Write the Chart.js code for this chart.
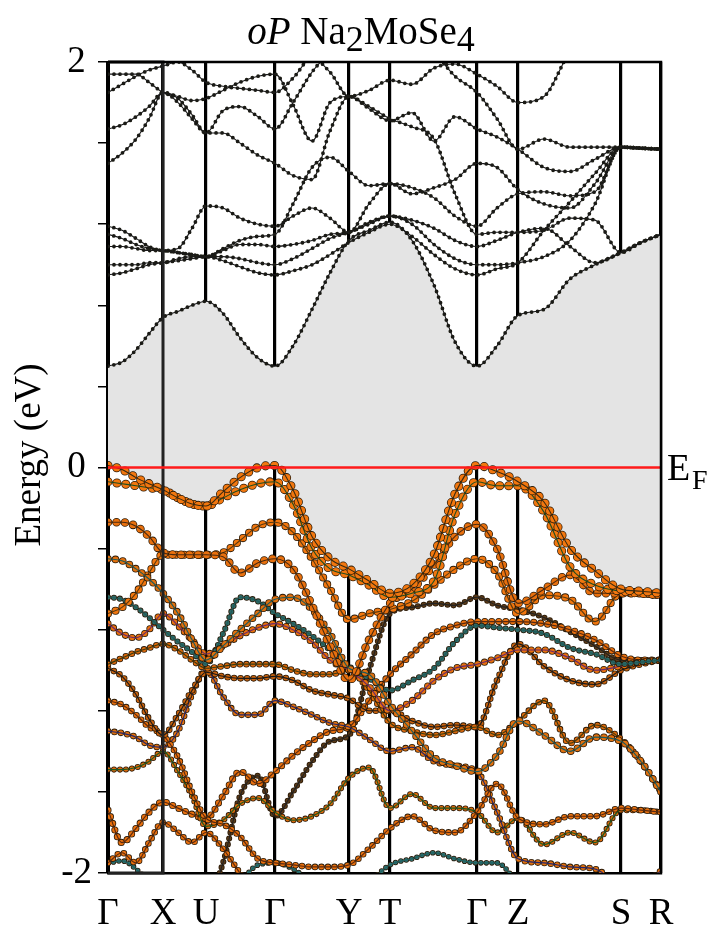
<!DOCTYPE html>
<html>
<head>
<meta charset="utf-8">
<script src="https://cdn.jsdelivr.net/npm/chart.js@4.4.1/dist/chart.umd.min.js"></script>
<style>
    html, body { margin: 0; padding: 0; background: #fff; }
</style>
</head>
<body>
<canvas id="bandChart" width="709" height="936"></canvas>
<script>
// k-path positions (path length units) and high-symmetry points
const kPos = [0, 14, 28, 41, 55, 70, 84, 98, 115, 132, 150, 167, 185, 204, 222, 241, 261, 282,
    304, 326, 347, 369, 389, 410, 436, 462, 487, 513, 533, 553];
const kTicks = [0, 55, 98, 167, 241, 282, 369, 410, 513, 553];
const kLabels = ['\u0393', 'X', 'U', '\u0393', 'Y', 'T', '\u0393', 'Z', 'S', 'R'];
const energyRange = [-2, 2];
const energyMajor = [-2, -1, 0, 1, 2];
const efLevel = 0;

// conduction bands (eV)
const cb1 = [0.50, 0.52, 0.58, 0.66, 0.74, 0.77, 0.80, 0.82, 0.76, 0.64, 0.54, 0.50, 0.60, 0.78, 0.96, 1.12, 1.17, 1.21, 1.12, 0.90, 0.62, 0.50, 0.60, 0.75, 0.78, 0.93, 1.00, 1.06, 1.11, 1.15];
const cb2 = [0.95, 0.96, 0.98, 1.00, 1.01, 1.02, 1.03, 1.04, 1.02, 0.99, 0.96, 0.95, 0.97, 1.00, 1.05, 1.11, 1.16, 1.20, 1.14, 1.05, 0.98, 0.95, 0.98, 1.01, 1.17, 1.31, 1.45, 1.58, 1.575, 1.57];
const cb3 = [1.00, 1.00, 1.00, 1.01, 1.01, 1.03, 1.04, 1.04, 1.04, 1.03, 1.01, 1.00, 1.03, 1.08, 1.13, 1.16, 1.20, 1.24, 1.20, 1.10, 1.03, 1.00, 1.00, 1.01, 1.04, 1.12, 1.30, 1.58, 1.575, 1.57];
const cb4 = [1.09, 1.09, 1.08, 1.07, 1.07, 1.06, 1.05, 1.04, 1.07, 1.10, 1.10, 1.09, 1.10, 1.12, 1.15, 1.16, 1.21, 1.24, 1.22, 1.18, 1.12, 1.09, 1.12, 1.16, 1.18, 1.09, 1.01, 1.06, 1.11, 1.15];
const cb5 = [1.15, 1.13, 1.10, 1.08, 1.07, 1.06, 1.05, 1.04, 1.08, 1.12, 1.14, 1.15, 1.30, 1.48, 1.53, 1.46, 1.39, 1.40, 1.35, 1.38, 1.42, 1.50, 1.48, 1.37, 1.30, 1.28, 1.40, 1.58, 1.575, 1.57];
const cb6 = [1.19, 1.17, 1.13, 1.09, 1.07, 1.08, 1.18, 1.29, 1.28, 1.23, 1.20, 1.19, 1.24, 1.28, 1.23, 1.16, 1.30, 1.40, 1.38, 1.33, 1.24, 1.19, 1.28, 1.35, 1.36, 1.34, 1.36, 1.58, 1.575, 1.57];
const cb7 = [1.50, 1.55, 1.62, 1.72, 1.85, 1.80, 1.72, 1.65, 1.65, 1.60, 1.54, 1.50, 1.44, 1.42, 1.66, 1.83, 1.77, 1.71, 1.75, 1.61, 1.73, 1.67, 1.63, 1.57, 1.48, 1.46, 1.52, 1.58, 1.575, 1.57];
const cb8 = [1.67, 1.69, 1.73, 1.78, 1.85, 1.82, 1.74, 1.65, 1.76, 1.78, 1.73, 1.67, 1.80, 1.95, 2.05, 2.15, 2.15, 2.15, 2.15, 2.05, 1.93, 1.85, 1.72, 1.57, 1.62, 1.58, 1.58, 1.58, 1.575, 1.57];
const cb9 = [1.85, 1.89, 1.93, 1.96, 1.98, 2.00, 1.96, 1.90, 1.88, 1.87, 1.86, 1.85, 1.92, 2.02, 1.95, 1.83, 1.86, 1.91, 1.89, 1.97, 1.99, 1.94, 1.88, 1.80, 1.83, 2.05, 2.15, 2.15, 2.15, 2.15];
const cb10 = [1.94, 1.94, 1.94, 1.90, 1.85, 1.83, 1.81, 1.82, 1.86, 1.90, 1.93, 1.94, 1.79, 1.61, 1.80, 1.83, 1.78, 1.72, 1.68, 1.62, 1.35, 1.15, 1.16, 1.16, 1.17, 1.23, 1.22, 1.06, 1.11, 1.15];

// valence bands (eV)
const vb1 = [0.01, -0.01, -0.05, -0.08, -0.11, -0.15, -0.18, -0.19, -0.12, -0.05, 0.00, 0.01, -0.11, -0.34, -0.45, -0.50, -0.56, -0.62, -0.58, -0.43, -0.13, 0.01, -0.02, -0.07, -0.17, -0.40, -0.51, -0.60, -0.61, -0.62];
const vb2 = [-0.07, -0.08, -0.09, -0.10, -0.11, -0.15, -0.18, -0.19, -0.15, -0.11, -0.08, -0.07, -0.18, -0.40, -0.50, -0.53, -0.58, -0.64, -0.62, -0.56, -0.23, -0.07, -0.09, -0.09, -0.22, -0.49, -0.58, -0.61, -0.62, -0.63];
const vb3 = [-0.27, -0.27, -0.29, -0.34, -0.42, -0.43, -0.43, -0.43, -0.44, -0.52, -0.47, -0.45, -0.50, -0.68, -0.88, -1.05, -0.85, -0.67, -0.60, -0.48, -0.34, -0.28, -0.40, -0.67, -0.60, -0.53, -0.62, -0.62, -0.62, -0.63];
const vb4 = [-0.45, -0.46, -0.50, -0.55, -0.62, -0.72, -0.85, -0.95, -0.88, -0.80, -0.72, -0.65, -0.64, -0.70, -0.82, -0.99, -1.02, -1.17, -1.30, -1.43, -1.47, -1.50, -1.42, -1.25, -1.32, -1.40, -1.33, -1.35, -1.45, -1.60];
const vb5 = [-0.72, -0.69, -0.62, -0.52, -0.43, -0.43, -0.43, -0.43, -0.42, -0.36, -0.29, -0.27, -0.32, -0.45, -0.60, -0.75, -0.72, -0.70, -0.66, -0.58, -0.50, -0.45, -0.52, -0.72, -0.63, -0.65, -0.76, -0.62, -0.62, -0.63];
const vb6 = [-0.64, -0.65, -0.69, -0.74, -0.80, -0.86, -0.91, -0.97, -0.82, -0.64, -0.66, -0.72, -0.77, -0.83, -0.90, -0.98, -1.04, -1.10, -1.05, -0.99, -0.86, -0.78, -0.79, -0.80, -0.82, -0.89, -0.92, -0.97, -0.96, -0.95];
const vb7 = [-0.77, -0.82, -0.84, -0.80, -0.72, -0.78, -0.85, -0.92, -0.88, -0.83, -0.79, -0.77, -0.80, -0.86, -0.95, -1.00, -1.08, -1.20, -1.15, -1.05, -0.99, -0.97, -0.94, -0.90, -0.90, -0.94, -1.00, -0.98, -0.96, -0.95];
const vb8 = [-0.97, -0.94, -0.91, -0.89, -0.87, -0.90, -0.95, -0.99, -0.98, -0.97, -0.97, -0.97, -1.00, -1.02, -1.02, -1.00, -1.10, -1.26, -1.30, -1.32, -1.30, -1.28, -1.32, -1.25, -1.15, -1.36, -1.27, -1.34, -1.45, -1.60];
const vb9 = [-0.99, -1.03, -1.12, -1.24, -1.32, -1.22, -1.10, -1.01, -1.03, -1.04, -1.04, -1.03, -1.05, -1.10, -1.12, -1.14, -1.20, -1.20, -1.25, -1.28, -1.27, -1.28, -1.05, -0.87, -0.98, -1.05, -1.07, -1.00, -0.97, -0.95];
const vb10 = [-1.15, -1.17, -1.22, -1.28, -1.32, -1.43, -1.60, -1.73, -1.76, -1.82, -1.93, -1.95, -1.96, -1.97, -1.97, -1.96, -1.88, -1.78, -1.72, -1.79, -1.80, -1.70, -1.56, -1.73, -1.76, -1.72, -1.72, -1.68, -1.69, -1.70];
const vb11 = [-1.30, -1.31, -1.33, -1.37, -1.38, -1.30, -1.12, -1.00, -1.13, -1.22, -1.22, -1.15, -1.18, -1.22, -1.26, -1.28, -1.34, -1.40, -1.38, -1.45, -1.47, -1.50, -1.70, -1.93, -1.95, -1.97, -1.98, -2.05, -2.05, -1.99];
const vb12 = [-1.49, -1.49, -1.48, -1.45, -1.40, -1.50, -1.62, -1.77, -1.74, -1.66, -1.63, -1.70, -1.74, -1.72, -1.66, -1.53, -1.48, -1.68, -1.61, -1.68, -1.68, -1.70, -1.80, -1.73, -1.86, -1.80, -1.85, -1.69, -1.69, -1.70];
const vb13 = [-1.69, -1.85, -1.78, -1.70, -1.65, -1.68, -1.71, -1.73, -1.62, -1.50, -1.56, -1.50, -1.42, -1.35, -1.30, -1.28, -1.15, -1.02, -0.92, -0.82, -0.78, -0.76, -0.76, -0.76, -0.77, -0.80, -0.85, -0.93, -0.95, -0.95];
const vb14 = [-1.95, -1.90, -1.95, -1.85, -1.75, -1.80, -1.85, -1.80, -1.88, -2.00, -2.10, -2.15, -2.15, -2.15, -2.15, -2.15, -2.15, -2.15, -2.15, -2.15, -2.15, -2.15, -2.15, -2.15, -2.15, -2.15, -2.15, -2.15, -2.15, -2.15];
const vb15 = [-1.95, -1.94, -1.98, -2.05, -2.15, -2.15, -2.15, -2.15, -2.15, -2.05, -1.96, -1.95, -1.98, -2.05, -2.15, -2.15, -2.05, -1.96, -1.93, -1.90, -1.93, -1.95, -1.95, -2.05, -2.15, -2.15, -2.15, -2.15, -2.15, -2.15];
const vb16 = [-2.15, -2.15, -2.15, -2.15, -2.15, -2.15, -2.15, -2.15, -1.95, -1.62, -1.52, -1.72, -1.60, -1.45, -1.35, -1.32, -1.00, -0.72, -0.69, -0.67, -0.68, -0.64, -0.68, -0.70, -0.74, -0.81, -0.88, -0.95, -0.95, -0.95];

const conduction = [cb1, cb2, cb3, cb4, cb5, cb6, cb7, cb8, cb9, cb10];
const valence = [vb1, vb2, vb3, vb4, vb5, vb6, vb7, vb8, vb9, vb10, vb11, vb12, vb13, vb14, vb15, vb16];

// styling
const SERIF = "'Liberation Serif', 'Times New Roman', serif";
const vbDot = [7.5, 7.5, 7, 6, 6.5, 4.5, 5.5, 5, 5, 5, 5, 4.5, 5.5, 5, 4, 4.5];
const vbFill = ['#f2770f', '#f2770f', '#e8700e', '#e0700e', '#f2770f', '#2f6a66', '#e8700e', '#d9680c',
    '#c8620e', '#e8700e', '#e0700e', '#d9680c', '#e8700e', '#e8700e', '#2f7070', '#5a3a18'];
const vbLine = ['#3a2a10', '#1f4d1f', '#4a2a10', '#1f5a5a', '#5a3a10', '#1f5a5a', '#6a2a6a', '#3a3a10',
    '#1a1a1a', '#5a2a10', '#26266a', '#1f5a1f', '#5a2a10', '#5a2a10', '#1f6060', '#222222'];

function toPoints(values) {
    return kPos.map((k, i) => ({ x: k, y: values[i] }));
}

function curve(values, color, width, dash) {
    return {
        data: toPoints(values),
        borderColor: color,
        borderWidth: width,
        borderDash: dash || [],
        borderCapStyle: 'round',
        borderJoinStyle: 'round',
        cubicInterpolationMode: 'monotone',
        pointRadius: 0,
        fill: false,
        clip: 0
    };
}

const datasets = [];

// Fermi level
datasets.push({
    data: [{ x: kTicks[0], y: efLevel }, { x: kTicks[kTicks.length - 1], y: efLevel }],
    borderColor: '#ff1a1a',
    borderWidth: 2.4,
    pointRadius: 0,
    tension: 0,
    clip: 0
});

// frame around the first segment
datasets.push({
    data: [
        { x: kTicks[0], y: energyRange[1] }, { x: kTicks[1], y: energyRange[1] },
        { x: kTicks[1], y: energyRange[0] }, { x: kTicks[0], y: energyRange[0] }
    ],
    borderColor: '#222',
    borderWidth: 3,
    pointRadius: 0,
    tension: 0,
    clip: 4
});

conduction.forEach(band => {
    datasets.push(curve(band, '#1a1a1a', 1.1));
    datasets.push(curve(band, '#1c1c14', 3.8, [0, 6]));
});

valence.forEach((band, i) => {
    const d = vbDot[i];
    datasets.push(curve(band, vbLine[i], 1.1));
    datasets.push(curve(band, vbFill[i], d, [0, d + 1.5]));
    datasets.push(curve(band, '#2a1a08', d + 1.6, [0, d + 1.5]));
});

// shaded gap between the lowest conduction band and the top valence band
datasets.push({
    data: toPoints(cb1),
    borderWidth: 0,
    pointRadius: 0,
    cubicInterpolationMode: 'monotone',
    fill: '+1',
    backgroundColor: '#e4e4e4',
    clip: 0
});
datasets.push({
    data: toPoints(vb1),
    borderWidth: 0,
    pointRadius: 0,
    cubicInterpolationMode: 'monotone',
    fill: false,
    clip: 0
});

const decorations = {
    id: 'decorations',
    afterDraw(chart) {
        const ctx = chart.ctx;
        const area = chart.chartArea;
        const y = chart.scales.y;
        ctx.save();

        // top and right edges of the frame
        ctx.strokeStyle = '#000';
        ctx.lineWidth = 2.5;
        ctx.beginPath();
        ctx.moveTo(area.left, area.top);
        ctx.lineTo(area.right, area.top);
        ctx.lineTo(area.right, area.bottom);
        ctx.stroke();

        ctx.fillStyle = '#000';

        // title: oP Na2MoSe4
        const parts = [
            { t: 'oP', f: 'italic 39px ' + SERIF, dy: 0 },
            { t: ' Na', f: '39px ' + SERIF, dy: 0 },
            { t: '2', f: '36px ' + SERIF, dy: 7 },
            { t: 'MoSe', f: '39px ' + SERIF, dy: 0 },
            { t: '4', f: '36px ' + SERIF, dy: 7 }
        ];
        let total = 0;
        parts.forEach(p => { ctx.font = p.f; p.w = ctx.measureText(p.t).width; total += p.w; });
        let x = 361 - total / 2;
        ctx.textBaseline = 'alphabetic';
        ctx.textAlign = 'left';
        parts.forEach(p => {
            ctx.font = p.f;
            ctx.fillText(p.t, x, 44 + p.dy);
            x += p.w;
        });

        // E_F label
        const yEf = y.getPixelForValue(efLevel);
        ctx.font = '38px ' + SERIF;
        ctx.fillText('E', area.right + 6, yEf + 12);
        ctx.font = '28px ' + SERIF;
        ctx.fillText('F', area.right + 31, yEf + 21);

        // y axis title
        ctx.translate(30, 455);
        ctx.rotate(-Math.PI / 2);
        ctx.textAlign = 'center';
        ctx.textBaseline = 'middle';
        ctx.font = '37px ' + SERIF;
        ctx.fillText('Energy (eV)', 0, 0);
        ctx.restore();
    }
};

new Chart(document.getElementById('bandChart').getContext('2d'), {
    type: 'line',
    data: { datasets: datasets },
    options: {
        responsive: false,
        animation: false,
        layout: { padding: { left: 0, right: 48, top: 62, bottom: 0 } },
        plugins: {
            legend: { display: false },
            tooltip: { enabled: false },
            filler: { drawTime: 'beforeDatasetsDraw' }
        },
        scales: {
            x: {
                type: 'linear',
                min: kTicks[0],
                max: kTicks[kTicks.length - 1],
                z: 1,
                afterBuildTicks: scale => { scale.ticks = kTicks.map(v => ({ value: v })); },
                afterFit: scale => { scale.height = 63; },
                ticks: {
                    autoSkip: false,
                    maxRotation: 0,
                    padding: 19,
                    color: '#000',
                    font: { family: SERIF, size: 37 },
                    callback: (value, index) => kLabels[index]
                },
                grid: { color: '#000', lineWidth: 3.2, drawTicks: false },
                border: { display: true, color: '#000', width: 2.5 }
            },
            y: {
                type: 'linear',
                min: energyRange[0],
                max: energyRange[1],
                afterBuildTicks: scale => {
                    const ticks = [];
                    for (let i = 0; i <= 20; i++) {
                        ticks.push({ value: energyRange[0] + i * 0.2 });
                    }
                    scale.ticks = ticks;
                },
                afterFit: scale => { scale.width = 108; },
                ticks: {
                    crossAlign: 'center',
                    padding: 6,
                    color: '#000',
                    font: { family: SERIF, size: 37 },
                    callback: value => {
                        const r = Math.round(value);
                        return (Math.abs(value - r) < 1e-6 && energyMajor.includes(r)) ? String(r) : '';
                    }
                },
                grid: { drawOnChartArea: false, drawTicks: true, tickLength: 10, color: '#000', lineWidth: 1.5 },
                border: { display: true, color: '#000', width: 3 }
            }
        }
    },
    plugins: [decorations]
});
</script>
</body>
</html>
